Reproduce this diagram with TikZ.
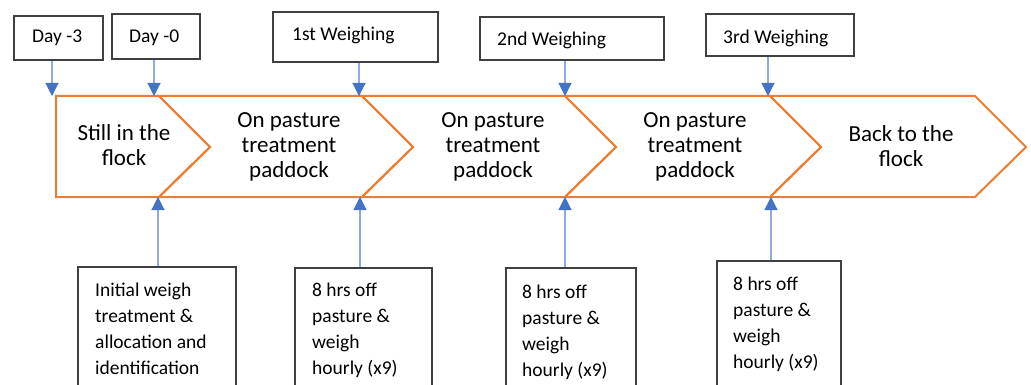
\documentclass[tikz,border=0pt]{standalone}
\usepackage{fontspec}
\setmainfont{Carlito}
\usetikzlibrary{arrows.meta}
\definecolor{orng}{HTML}{ED7D31}
\definecolor{ablue}{HTML}{4472C4}
\definecolor{lblue}{HTML}{8FAADC}
\definecolor{bgray}{HTML}{404040}
\newcommand\ctrlines[1]{\begin{tabular}[t]{@{}c@{}}#1\end{tabular}}
\newcommand\leftlines[1]{\begin{tabular}[t]{@{}l@{}}#1\end{tabular}}
\begin{document}
\begin{tikzpicture}[x=1pt,y=-1pt,
  chev/.style={draw=orng,line width=2pt,line join=miter},
  tbox/.style={draw=bgray,line width=1.1pt,fill=white,inner sep=0pt},
  arr/.style={draw=lblue,line width=1.1pt,-{Triangle[length=13pt,width=13pt,color=ablue]}},
  chevtext/.style={anchor=base,inner sep=0pt,font=\fontsize{23}{25}\selectfont},
  toptext/.style={anchor=base west,inner sep=0pt,font=\fontsize{19.5}{23}\selectfont},
  bottext/.style={anchor=base west,inner sep=0pt,font=\fontsize{19.5}{26.3}\selectfont}]
\useasboundingbox (0,0) rectangle (1031,385);
\clip (0,0) rectangle (1031,385);

% process chevrons
\draw[chev] (56,96) -- (159,96) -- (210,147) -- (159,197) -- (56,197) -- cycle;
\draw[chev] (159,96) -- (362,96) -- (413,147) -- (362,197) -- (159,197) -- (210,147) -- cycle;
\draw[chev] (362,96) -- (565,96) -- (616,147) -- (565,197) -- (362,197) -- (413,147) -- cycle;
\draw[chev] (565,96) -- (770,96) -- (821,147) -- (770,197) -- (565,197) -- (616,147) -- cycle;
\draw[chev] (770,96) -- (975,96) -- (1026,147) -- (975,197) -- (770,197) -- (821,147) -- cycle;

\node[chevtext] (c1) at (124,141) {\ctrlines{Still in the\\flock}};
\node[chevtext] (c2) at (289,128) {\ctrlines{On pasture\\treatment\\paddock}};
\node[chevtext] (c3) at (493,128) {\ctrlines{On pasture\\treatment\\paddock}};
\node[chevtext] (c4) at (695,128) {\ctrlines{On pasture\\treatment\\paddock}};
\node[chevtext] (c5) at (901,142) {\ctrlines{Back to the\\flock}};

% top boxes
\node[tbox,minimum width=89pt,minimum height=44pt] (d3) at (58.5,38) {};
\node[tbox,minimum width=88pt,minimum height=45pt] (d0) at (156,36.5) {};
\node[tbox,minimum width=165pt,minimum height=50pt] (w1) at (355.5,37) {};
\node[tbox,minimum width=184pt,minimum height=43pt] (w2) at (572,38.5) {};
\node[tbox,minimum width=148pt,minimum height=42pt] (w3) at (780,35) {};
\node[toptext] (d3t) at (32,43) {Day -3};
\node[toptext] (d0t) at (129,43) {Day -0};
\node[toptext] (w1t) at (292,41) {1st Weighing};
\node[toptext] (w2t) at (497,46) {2nd Weighing};
\node[toptext] (w3t) at (723,44) {3rd Weighing};

% bottom boxes
\node[tbox,minimum width=158pt,minimum height=133pt] (b1) at (157,333.5) {};
\node[tbox,minimum width=137pt,minimum height=132pt] (b2) at (363.5,334) {};
\node[tbox,minimum width=130pt,minimum height=132pt] (b3) at (571,334) {};
\node[tbox,minimum width=124pt,minimum height=139pt] (b4) at (779,330.5) {};
\node[bottext] (b1t) at (95,296) {\leftlines{Initial weigh\\treatment \&\\allocation and\\identification}};
\node[bottext] (b2t) at (312,296) {\leftlines{8 hrs off\\pasture \&\\weigh\\hourly (x9)}};
\node[bottext] (b3t) at (522,298) {\leftlines{8 hrs off\\pasture \&\\weigh\\hourly (x9)}};
\node[bottext] (b4t) at (733,290) {\leftlines{8 hrs off\\pasture \&\\weigh\\hourly (x9)}};

% arrow targets
\coordinate (ta1) at (52,96);
\coordinate (ta2) at (154,96);
\coordinate (ta3) at (359,96);
\coordinate (ta4) at (565,96);
\coordinate (ta5) at (768,96);
\coordinate (ba1) at (158,197);
\coordinate (ba2) at (360,197);
\coordinate (ba3) at (565,197);
\coordinate (ba4) at (771,197);

\draw[arr] (d3.south -| ta1) -- (ta1);
\draw[arr] (d0.south -| ta2) -- (ta2);
\draw[arr] (w1.south -| ta3) -- (ta3);
\draw[arr] (w2.south -| ta4) -- (ta4);
\draw[arr] (w3.south -| ta5) -- (ta5);
\draw[arr] (b1.north -| ba1) -- (ba1);
\draw[arr] (b2.north -| ba2) -- (ba2);
\draw[arr] (b3.north -| ba3) -- (ba3);
\draw[arr] (b4.north -| ba4) -- (ba4);
\end{tikzpicture}
\end{document}
